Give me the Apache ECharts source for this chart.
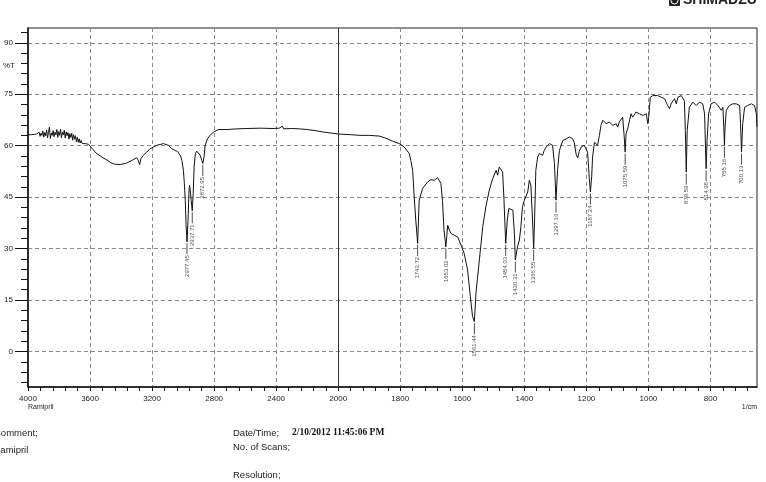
<!DOCTYPE html>
<html>
<head>
<meta charset="utf-8">
<script src="https://cdn.jsdelivr.net/npm/echarts@6/dist/echarts.min.js"></script>
<style>
  html, body { margin: 0; padding: 0; background: #fff; }
  #chart { width: 766px; height: 482px; }
</style>
</head>
<body>
<div id="chart"></div>
<script>
// spectrum: wavenumber (1/cm) and %T
const wavenumbers = [
  4000, 3980, 3960, 3945, 3935, 3928, 3922, 3916, 3910, 3904, 3898, 3892, 3886, 3880, 3874, 3868,
  3862, 3856, 3850, 3844, 3838, 3832, 3826, 3820, 3814, 3808, 3802, 3796, 3790, 3784, 3778, 3772,
  3766, 3760, 3754, 3748, 3742, 3736, 3730, 3724, 3718, 3712, 3706, 3700, 3694, 3688, 3682, 3676,
  3670, 3664, 3658, 3650, 3640, 3630, 3620, 3610, 3600, 3580, 3560, 3535, 3510, 3490, 3465, 3440,
  3405, 3365, 3330, 3300, 3290, 3280, 3272, 3256, 3235, 3213, 3170, 3127, 3095, 3073, 3052, 3035,
  3028, 3022, 3016, 3008, 2998, 2992, 2986, 2981, 2975, 2968, 2963, 2959, 2955, 2948, 2941, 2935,
  2929, 2921, 2912, 2901, 2890, 2879, 2873, 2865, 2858, 2843, 2826, 2804, 2772, 2718, 2654, 2589,
  2500, 2420, 2380, 2368, 2360, 2352, 2300, 2250, 2200, 2150, 2100, 2050, 2000, 1960, 1930, 1900,
  1868, 1847, 1825, 1803, 1787, 1771, 1766, 1760, 1755, 1750, 1744, 1739, 1728, 1712, 1701, 1690,
  1680, 1674, 1669, 1664, 1659, 1653, 1647, 1642, 1636, 1626, 1615, 1604, 1594, 1583, 1574, 1567,
  1561, 1556, 1545, 1534, 1524, 1513, 1502, 1497, 1491, 1486, 1481, 1475, 1470, 1466, 1463, 1460,
  1455, 1450, 1444, 1437, 1432, 1429, 1422, 1416, 1411, 1406, 1400, 1395, 1389, 1384, 1379, 1374,
  1370, 1367, 1363, 1357, 1352, 1346, 1341, 1336, 1330, 1319, 1314, 1309, 1303, 1298, 1293, 1287,
  1276, 1265, 1255, 1244, 1239, 1233, 1228, 1223, 1217, 1207, 1201, 1196, 1191, 1187, 1183, 1180,
  1174, 1169, 1164, 1158, 1153, 1147, 1142, 1136, 1126, 1115, 1104, 1099, 1094, 1088, 1083, 1078,
  1075, 1072, 1067, 1061, 1056, 1051, 1045, 1040, 1029, 1018, 1013, 1007, 1002, 999, 994, 986,
  970, 959, 948, 938, 932, 927, 916, 910, 905, 894, 884, 881, 878, 875, 868, 857,
  846, 835, 825, 819, 816, 814, 811, 806, 798, 787, 776, 771, 765, 760, 757, 755,
  753, 749, 739, 728, 717, 706, 703, 700, 696, 690, 680, 668, 658, 652, 650
];
const transmittance = [
  63.2, 63.2, 63.3, 63.4, 63.1, 63.9, 62.7, 63.6, 63.0, 64.3, 62.5, 63.8, 62.9, 64.6, 62.3, 63.9,
  65.4, 62.1, 63.7, 63.0, 64.4, 62.6, 63.9, 63.2, 64.7, 62.4, 64.1, 63.0, 64.8, 62.3, 63.9, 63.2,
  64.5, 62.2, 64.0, 62.9, 63.8, 61.9, 63.5, 62.4, 63.6, 61.6, 63.2, 61.9, 62.9, 61.2, 62.4, 61.0,
  62.0, 60.8, 61.5, 60.6, 61.1, 60.6, 60.8, 60.4, 60.3, 58.8, 57.8, 57.0, 56.3, 55.8, 55.0, 54.6,
  54.5, 54.9, 55.7, 56.5, 55.8, 54.5, 56.2, 57.2, 58.1, 59.1, 60.1, 60.6, 60.1, 59.1, 58.6, 58.3,
  57.7, 58.0, 57.0, 55.7, 52.8, 49.0, 44.1, 37.0, 32.0, 38.3, 46.0, 48.5, 47.5, 44.1, 41.0, 46.0,
  53.8, 57.7, 58.4, 58.1, 57.2, 55.7, 54.8, 56.7, 60.1, 62.0, 63.0, 64.0, 64.7, 64.7, 64.9, 65.0,
  65.1, 65.0, 65.1, 64.6, 65.7, 64.9, 65.0, 64.9, 64.7, 64.4, 64.0, 63.7, 63.4, 63.2, 63.0, 63.0,
  62.8, 62.2, 61.3, 60.6, 59.6, 57.7, 55.7, 52.8, 45.0, 38.3, 31.5, 44.1, 47.5, 49.4, 50.1, 49.9,
  50.7, 50.2, 49.0, 44.1, 35.4, 30.5, 36.8, 35.4, 34.4, 33.9, 33.4, 31.0, 28.6, 23.8, 16.0, 10.2,
  8.7, 17.0, 26.7, 36.4, 42.2, 47.0, 50.4, 50.0, 52.8, 51.4, 53.8, 54.3, 52.3, 45.0, 38.0, 31.5,
  38.3, 41.7, 42.2, 41.2, 34.4, 26.7, 30.5, 32.5, 36.4, 42.2, 44.1, 44.6, 46.5, 49.9, 48.5, 39.2,
  30.1, 38.3, 52.8, 56.7, 57.7, 58.1, 57.2, 58.6, 59.6, 60.6, 61.0, 60.1, 54.8, 44.1, 52.8, 58.6,
  61.5, 62.0, 62.5, 62.0, 60.8, 57.5, 56.4, 58.4, 59.6, 60.1, 59.6, 58.1, 50.9, 46.5, 50.9, 56.7,
  61.0, 61.5, 60.1, 63.0, 65.9, 67.4, 66.9, 66.4, 66.9, 65.9, 66.4, 65.4, 66.9, 66.4, 68.3, 62.5,
  58.1, 63.5, 64.9, 64.4, 69.3, 68.3, 68.8, 69.8, 69.3, 68.8, 68.3, 69.3, 66.4, 68.3, 74.1, 74.6,
  74.6, 74.1, 73.7, 71.7, 70.8, 72.2, 73.7, 72.2, 74.1, 74.6, 73.1, 64.4, 52.3, 64.4, 71.2, 72.7,
  71.7, 72.7, 72.2, 69.3, 59.6, 53.3, 61.5, 69.3, 72.2, 72.7, 71.7, 71.2, 70.3, 71.2, 65.4, 60.1,
  65.4, 70.3, 71.7, 72.2, 72.2, 71.7, 66.4, 58.1, 66.4, 71.2, 71.7, 72.2, 71.7, 69.3, 65.5
];

// peak picks
const peakWavenumbers = [2975, 2941, 2873, 1744, 1653, 1561, 1460, 1429, 1370, 1298, 1187, 1075, 878, 814, 755, 700];
const peakTransmittance = [32.0, 41.0, 54.8, 31.5, 30.5, 8.7, 31.5, 26.7, 30.1, 44.1, 46.5, 58.1, 52.3, 53.3, 60.1, 58.1];
const peakLabels = ['2977.45', '2937.71', '2872.95', '1743.72', '1653.02', '1561.44', '1454.03', '1430.31',
  '1366.55', '1297.16', '1187.24', '1075.59', '879.59', '814.98', '755.16', '700.13'];

const xTickLabels = [4000, 3600, 3200, 2800, 2400, 2000, 1800, 1600, 1400, 1200, 1000, 800];
const yTickLabels = [0, 15, 30, 45, 60, 75, 90];

const FONT = "'Liberation Sans', Arial, sans-serif";

// above 2000 1/cm the axis is drawn at half scale
const toAxis = w => (w > 2000 ? 2000 + (w - 2000) / 2 : w);
const fromAxis = t => (t > 2000 ? 2000 + (t - 2000) * 2 : t);

const xMajor = xTickLabels.map(toAxis);
const xMinor = [];
for (let t = 680; t <= 3000; t += 40) xMinor.push(t);
const yMinor = [];
for (let v = -9; v <= 93; v += 3) yMinor.push(v);

const X_MIN = 650, X_MAX = 3000, Y_MIN = -10.35, Y_MAX = 94.3;

const curve = wavenumbers.map((w, i) => [toAxis(w), transmittance[i]]);
const peaks = peakWavenumbers.map((w, i) => [toAxis(w), peakTransmittance[i]]);

const chart = echarts.init(document.getElementById('chart'), null, { renderer: 'canvas' });

const gridLine = { show: true, lineStyle: { color: '#8a8a8a', width: 1, type: [4, 3] } };

chart.setOption({
  animation: false,
  textStyle: { fontFamily: FONT },
  grid: {
    left: 28, right: 9, top: 28, bottom: 95,
    show: true, borderColor: '#222', borderWidth: 1
  },
  xAxis: [
    {
      type: 'value', min: X_MIN, max: X_MAX, inverse: true, position: 'bottom',
      axisLine: { show: true, onZero: false, lineStyle: { color: '#111', width: 1.5 } },
      axisTick: { show: true, customValues: xMajor, length: 4, lineStyle: { color: '#111' } },
      axisLabel: {
        customValues: xMajor, margin: 8, fontSize: 8, color: '#222', fontFamily: FONT,
        formatter: v => String(Math.round(fromAxis(v)))
      },
      splitLine: gridLine
    },
    {
      type: 'value', min: X_MIN, max: X_MAX, inverse: true, position: 'bottom',
      axisLine: { show: false, onZero: false },
      axisTick: { show: true, customValues: xMinor, length: 4, lineStyle: { color: '#111' } },
      axisLabel: { show: false },
      splitLine: { show: false }
    }
  ],
  yAxis: [
    {
      type: 'value', min: Y_MIN, max: Y_MAX, position: 'left',
      axisLine: { show: true, onZero: false, lineStyle: { color: '#111', width: 1.5 } },
      axisTick: { show: true, customValues: yTickLabels, length: 13, lineStyle: { color: '#111' } },
      axisLabel: { customValues: yTickLabels, margin: 15, fontSize: 8, color: '#222', fontFamily: FONT },
      splitLine: gridLine
    },
    {
      type: 'value', min: Y_MIN, max: Y_MAX, position: 'left',
      axisLine: { show: false, onZero: false },
      axisTick: { show: true, customValues: yMinor, length: 7, lineStyle: { color: '#111' } },
      axisLabel: { show: false },
      splitLine: { show: false }
    }
  ],
  series: [
    {
      type: 'line',
      data: curve,
      showSymbol: false,
      symbol: 'none',
      silent: true,
      lineStyle: { color: '#111', width: 1 },
      z: 3,
      markLine: {
        silent: true,
        symbol: 'none',
        label: { show: false },
        lineStyle: { color: '#333', type: 'solid', width: 1 },
        data: [{ xAxis: 2000 }]
      }
    },
    {
      type: 'scatter',
      data: peaks,
      silent: true,
      symbol: 'rect',
      symbolSize: [1, 11],
      symbolOffset: [0, 7],
      itemStyle: { color: '#222' },
      z: 4,
      label: {
        show: true,
        formatter: p => peakLabels[p.dataIndex],
        position: 'bottom',
        distance: 1,
        rotate: 90,
        align: 'right',
        verticalAlign: 'middle',
        fontSize: 6,
        color: '#222',
        fontFamily: FONT
      }
    }
  ],
  graphic: [
    { type: 'text', left: 3, top: 62, style: { text: '%T', font: '8px ' + FONT, fill: '#222' } },
    { type: 'text', left: 28, top: 404, style: { text: 'Ramipril', font: '7px ' + FONT, fill: '#222' } },
    { type: 'text', right: 9, top: 404, style: { text: '1/cm', font: '7px ' + FONT, fill: '#222' } },
    { type: 'text', left: -6, top: 428, style: { text: 'Comment;', font: '9.5px ' + FONT, fill: '#222' } },
    { type: 'text', left: -6.5, top: 445, style: { text: 'Ramipril', font: '9.5px ' + FONT, fill: '#222' } },
    { type: 'text', left: 233, top: 428, style: { text: 'Date/Time;', font: '9.5px ' + FONT, fill: '#222' } },
    { type: 'text', left: 292, top: 428, style: { text: '2/10/2012 11:45:06 PM', font: 'bold 9.5px "Liberation Serif", serif', fill: '#111' } },
    { type: 'text', left: 233, top: 442, style: { text: 'No. of Scans;', font: '9.5px ' + FONT, fill: '#222' } },
    { type: 'text', left: 233, top: 470, style: { text: 'Resolution;', font: '9.5px ' + FONT, fill: '#222' } },
    // logo, cut at the top edge
    { type: 'rect', shape: { x: 669, y: -5, width: 11, height: 11, r: 1 }, style: { fill: '#222' } },
    { type: 'circle', shape: { cx: 674.5, cy: 0.5, r: 3.5 }, style: { fill: 'none', stroke: '#fff', lineWidth: 1 } },
    {
      type: 'text', x: 683, y: 7,
      style: { text: 'SHIMADZU', font: 'bold 14px ' + FONT, fill: '#222', textVerticalAlign: 'bottom' }
    }
  ]
});
</script>
</body>
</html>
